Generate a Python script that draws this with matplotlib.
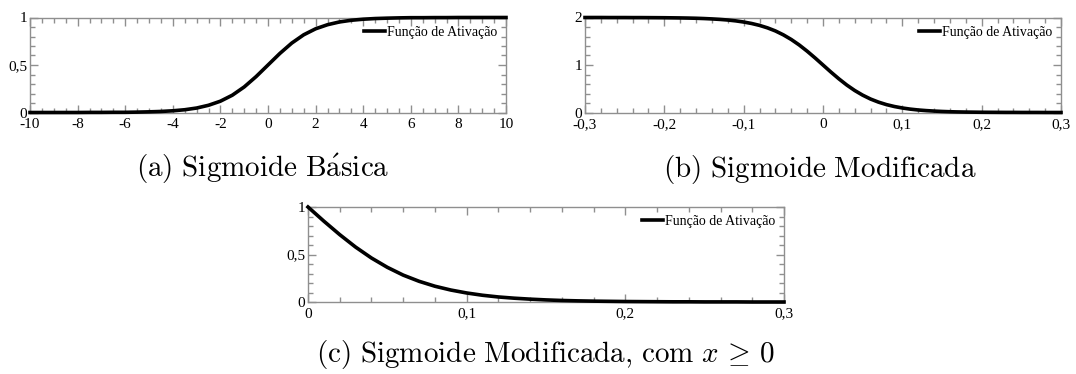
import numpy as np
import matplotlib.pyplot as plt
from matplotlib.ticker import MultipleLocator, FuncFormatter

plt.rcParams['mathtext.fontset'] = 'cm'

W, H = 1076, 374

# (a) basic sigmoid, read every 0.5
a_x = np.linspace(-10, 10, 41)
a_y = [0.000, 0.000, 0.000, 0.000, 0.000, 0.001, 0.001, 0.002, 0.002, 0.004,
       0.007, 0.011, 0.018, 0.029, 0.047, 0.076, 0.119, 0.182, 0.269, 0.378,
       0.500, 0.622, 0.731, 0.818, 0.881, 0.924, 0.953, 0.971, 0.982, 0.989,
       0.993, 0.996, 0.998, 0.998, 0.999, 0.999, 1.000, 1.000, 1.000, 1.000,
       1.000]

# (b) modified sigmoid, read every 0.01
b_x = np.linspace(-0.3, 0.3, 61)
b_y = [2.000, 2.000, 2.000, 1.999, 1.999, 1.999, 1.998, 1.998, 1.997, 1.996,
       1.995, 1.993, 1.991, 1.988, 1.984, 1.978, 1.970, 1.960, 1.947, 1.929,
       1.905, 1.874, 1.834, 1.782, 1.717, 1.635, 1.537, 1.422, 1.291, 1.149,
       1.000, 0.851, 0.709, 0.578, 0.463, 0.365, 0.283, 0.218, 0.166, 0.126,
       0.095, 0.071, 0.053, 0.040, 0.030, 0.022, 0.016, 0.012, 0.009, 0.007,
       0.005, 0.004, 0.003, 0.002, 0.002, 0.001, 0.001, 0.001, 0.000, 0.000,
       0.000]

# (c) same curve, only x >= 0
c_x = b_x[30:]
c_y = b_y[30:]

legend_label = 'Função de Ativação'
captions = [r'$\mathrm{(a)\ Sigmoide\ B\acute{a}sica}$',
            r'$\mathrm{(b)\ Sigmoide\ Modificada}$',
            r'$\mathrm{(c)\ Sigmoide\ Modificada{,}\ com\ }x\,\geq\,0$']

gray = '#8f8f8f'
tick_font = 'Liberation Serif'


def fmt(v, pos):
    s = f'{round(v, 6):g}'.replace('.', ',')
    return '0' if s == '-0' else s


def panel(rect, x, y, xlim, ylim, xmaj, xmin, ymaj, ymin):
    ax = fig.add_axes(rect)
    ax.plot(x, y, color='black', lw=2.6, clip_on=False, zorder=5,
            label=legend_label)
    ax.set_xlim(*xlim)
    ax.set_ylim(*ylim)
    ax.xaxis.set_major_locator(MultipleLocator(xmaj))
    ax.xaxis.set_minor_locator(MultipleLocator(xmin))
    ax.yaxis.set_major_locator(MultipleLocator(ymaj))
    ax.yaxis.set_minor_locator(MultipleLocator(ymin))
    ax.xaxis.set_major_formatter(FuncFormatter(fmt))
    ax.yaxis.set_major_formatter(FuncFormatter(fmt))
    for sp in ax.spines.values():
        sp.set_color(gray)
        sp.set_linewidth(1.0)
    ax.tick_params(which='both', direction='in', top=True, right=True,
                   color=gray, width=1.0)
    ax.tick_params(which='major', length=6)
    ax.tick_params(which='minor', length=3.5)
    ax.tick_params(axis='x', pad=4)
    ax.tick_params(axis='y', pad=2)
    for lab in ax.get_xticklabels() + ax.get_yticklabels():
        lab.set_fontfamily(tick_font)
        lab.set_fontsize(11)
    ax.legend(loc='upper right', frameon=False, handlelength=1.5,
              handletextpad=0.2, borderpad=0.2, borderaxespad=0.4,
              prop={'family': tick_font, 'size': 10})
    return ax


fig = plt.figure(figsize=(W / 100, H / 100), dpi=100)

panel([30 / W, 1 - 112.5 / H, 476 / W, 95 / H], a_x, a_y,
      (-10, 10), (0, 1), 2, 0.5, 0.5, 0.1)
panel([585 / W, 1 - 112.5 / H, 476 / W, 95 / H], b_x, b_y,
      (-0.3, 0.3), (0, 2), 0.1, 0.02, 1, 0.2)
panel([308 / W, 1 - 302 / H, 476 / W, 95 / H], c_x, c_y,
      (0, 0.3), (0, 1), 0.1, 0.02, 0.5, 0.1)

fig.text(263 / W, 1 - 177 / H, captions[0], ha='center', va='baseline', fontsize=21)
fig.text(820 / W, 1 - 177 / H, captions[1], ha='center', va='baseline', fontsize=21)
fig.text(545 / W, 1 - 362 / H, captions[2], ha='center', va='baseline', fontsize=21)

fig.savefig('out.png', dpi=100)
